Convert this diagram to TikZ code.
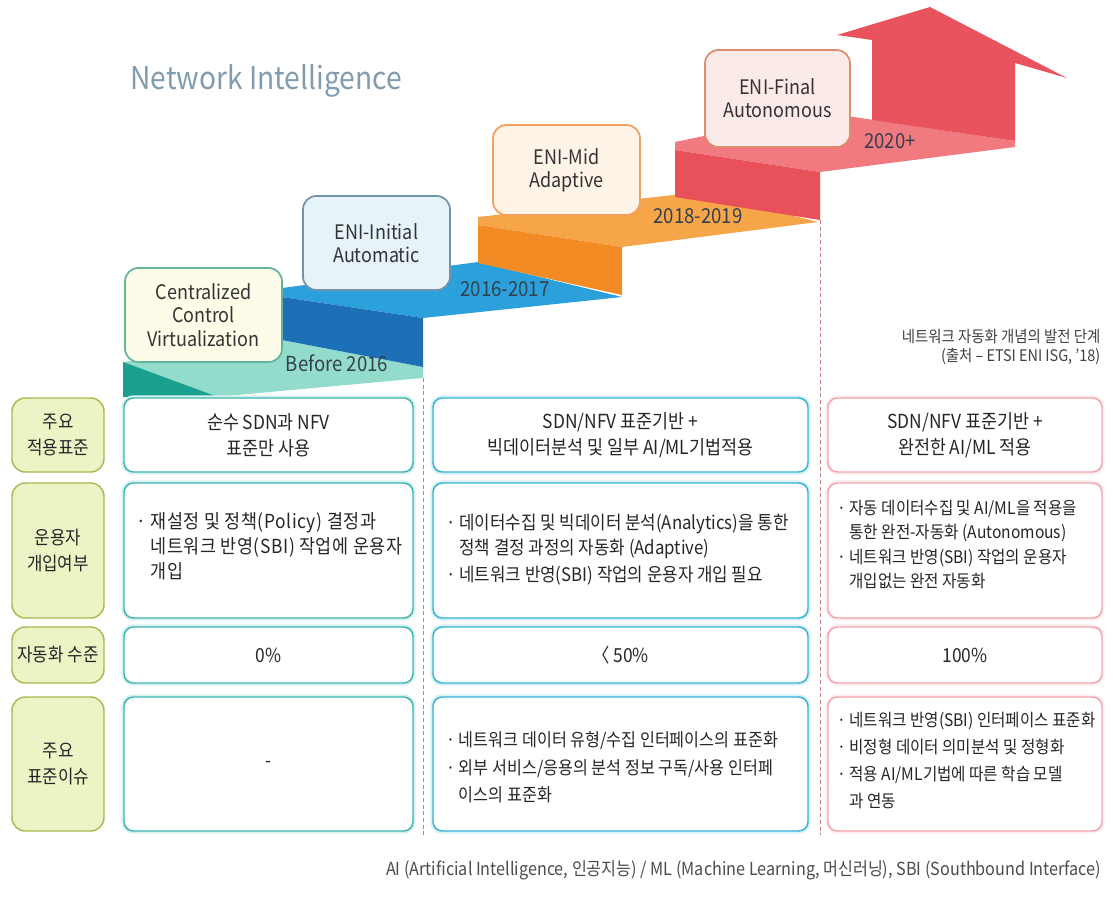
\documentclass[tikz,border=0pt]{standalone}
\usepackage{fontspec}
\setmainfont{Noto Sans CJK KR}[FakeStretch=0.9]

\definecolor{titleblue}{HTML}{809CAE}
\definecolor{tealdark}{HTML}{1BA08F}
\definecolor{mint}{HTML}{93DCCB}
\definecolor{bluedark}{HTML}{1D6FB6}
\definecolor{bluelight}{HTML}{2BA0DA}
\definecolor{orangedark}{HTML}{F28B24}
\definecolor{orangelight}{HTML}{F6A548}
\definecolor{reddark}{HTML}{E8505A}
\definecolor{redlight}{HTML}{F07A7F}
\definecolor{arrowred}{HTML}{E9535D}
\definecolor{yeartext}{HTML}{34404E}
\definecolor{boxteal}{HTML}{62B49A}
\definecolor{boxslate}{HTML}{7393A8}
\definecolor{boxorange}{HTML}{F0A060}
\definecolor{boxcoral}{HTML}{E08A6E}
\definecolor{fillcream}{HTML}{FCFCE8}
\definecolor{fillsky}{HTML}{E6F4F9}
\definecolor{fillpeach}{HTML}{FDF3E6}
\definecolor{fillpink}{HTML}{FBEBE8}
\definecolor{labelfill}{HTML}{EEF3C6}
\definecolor{labeldraw}{HTML}{A9B850}
\definecolor{colone}{HTML}{3DB5B0}
\definecolor{coltwo}{HTML}{34B4D4}
\definecolor{colthree}{HTML}{F0A3AC}
\definecolor{guidered}{HTML}{C08088}

\newcommand{\pxu}{0.75pt}

\begin{document}
\begin{tikzpicture}[x=\pxu, y=-\pxu,
    stepbox/.style={draw, line width=1.3pt, rounded corners=10pt, align=center, inner sep=0pt,
      text=black!80, font=\fontsize{15}{17.5}\selectfont},
    yeartxt/.style={text=yeartext, inner sep=0pt, font=\fontsize{15.5}{17}\selectfont},
    rowlabel/.style={draw=labeldraw, fill=labelfill, line width=1.1pt, rounded corners=10pt,
      minimum width=92*\pxu, align=center, inner sep=0pt, text=black!85, font=\fontsize{14}{19.5}\selectfont},
    cell/.style={fill=white, line width=1.1pt, rounded corners=7pt, inner sep=0pt, align=center,
      text=black!85, font=\fontsize{14.5}{19.5}\selectfont},
    colA/.style={cell, draw=colone, preaction={draw=colone!20, line width=4pt}, minimum width=289*\pxu},
    colB/.style={cell, draw=coltwo, preaction={draw=coltwo!20, line width=4pt}, minimum width=375*\pxu},
    colC/.style={cell, draw=colthree, preaction={draw=colthree!20, line width=4pt}, minimum width=274*\pxu},
    bullets/.style={anchor=west, align=left, inner sep=0pt, text=black!85},
    guide/.style={draw=guidered, line width=0.6pt, densely dashed}]
  \useasboundingbox (0,0) rectangle (1113,899);

  \node[text=titleblue, font=\fontsize{23.5}{27}\selectfont] (title) at (266,81) {Network Intelligence};

  \fill[mint] (123,362) -- (282,340) -- (423,367) -- (423,378) -- (215,397) -- (123,397) -- cycle;
  \fill[tealdark] (123,362) -- (123,397) -- (218,397) -- cycle;
  \fill[bluelight] (282,288) -- (478,262) -- (622,297) -- (423,318) -- (282,297) -- cycle;
  \fill[bluedark] (282,297) -- (423,318) -- (423,367) -- (282,340) -- cycle;
  \fill[orangelight] (478,217) -- (700,192) -- (818,222) -- (622,247) -- (478,225) -- cycle;
  \fill[orangedark] (478,225) -- (622,247) -- (622,295) -- (478,263) -- cycle;
  \fill[redlight] (675,142) -- (820,112) -- (1015,141) -- (1015,147) -- (820,172) -- (675,150) -- cycle;
  \fill[reddark] (675,150) -- (820,172) -- (820,220) -- (675,197) -- cycle;
  \fill[arrowred] (872,120) -- (872,40) -- (837,35) -- (930,7) -- (1067,78) -- (1015,63) -- (1015,141) -- cycle;

  \coordinate (g1top) at (423,378);
  \coordinate (g1bot) at (423,835);
  \coordinate (g2top) at (820,220);
  \coordinate (g2bot) at (820,835);
  \draw[guide] (g1top) -- (g1bot);
  \draw[guide] (g2top) -- (g2bot);

  \node[stepbox, fill=fillcream, draw=boxteal, minimum width=157*\pxu, minimum height=94*\pxu]
    (central) at (203.5,315) {Centralized\\Control\\Virtualization};
  \node[stepbox, fill=fillsky, draw=boxslate, minimum width=147*\pxu, minimum height=94*\pxu]
    (initial) at (376.5,243) {ENI-Initial\\Automatic};
  \node[stepbox, fill=fillpeach, draw=boxorange, minimum width=147*\pxu, minimum height=90*\pxu]
    (mid) at (566.5,170) {ENI-Mid\\Adaptive};
  \node[stepbox, fill=fillpink, draw=boxcoral, minimum width=145*\pxu, minimum height=97*\pxu]
    (final) at (777.5,98.5) {ENI-Final\\Autonomous};

  \node[yeartxt] (before) at (337,363) {Before 2016};
  \node[yeartxt] (early) at (505,289) {2016-2017};
  \node[yeartxt] (middle) at (698,216) {2018-2019};
  \node[yeartxt] (late) at (890,141) {2020+};

  \node[anchor=east, align=right, text=black!75, font=\fontsize{12}{14}\selectfont] (source) at (1105,347)
    {네트워크 자동화 개념의 발전 단계\\(출처 – ETSI ENI ISG, ’18)};

  \node[rowlabel, minimum height=74*\pxu] (lab1) at (58,435) {주요\\적용표준};
  \node[rowlabel, minimum height=135*\pxu] (lab2) at (58,550.5) {운용자\\개입여부};
  \node[rowlabel, minimum height=56*\pxu] (lab3) at (58,655) {자동화 수준};
  \node[rowlabel, minimum height=134*\pxu] (lab4) at (58,764) {주요\\표준이슈};

  \node[colA, minimum height=74*\pxu] (r1c1) at (268.5,435) {순수 SDN과 NFV\\표준만 사용};
  \node[colB, minimum height=74*\pxu] (r1c2) at (620.5,435) {SDN/NFV 표준기반 +\\빅데이터분석 및 일부 AI/ML기법적용};
  \node[colC, minimum height=74*\pxu] (r1c3) at (965,435) {SDN/NFV 표준기반 +\\완전한 AI/ML 적용};

  \node[colA, minimum height=135*\pxu] (r2c1) at (268.5,550.5) {};
  \node[colB, minimum height=135*\pxu] (r2c2) at (620.5,550.5) {};
  \node[colC, minimum height=135*\pxu] (r2c3) at (965,550.5) {};
  \node[bullets, font=\fontsize{14.5}{18.75}\selectfont\addfontfeatures{LetterSpace=3}] (t2c1) at (136,546)
    {· 재설정 및 정책(Policy) 결정과\\\hphantom{· }네트워크 반영(SBI) 작업에 운용자\\\hphantom{· }개입};
  \node[bullets, font=\fontsize{14}{19}\selectfont] (t2c2) at (446,549.5)
    {· 데이터수집 및 빅데이터 분석(Analytics)을 통한\\\hphantom{· }정책 결정 과정의 자동화 (Adaptive)\\[1.5pt]· 네트워크 반영(SBI) 작업의 운용자 개입 필요};
  \node[bullets, font=\fontsize{13}{18.2}\selectfont] (t2c3) at (837,544.5)
    {· 자동 데이터수집 및 AI/ML을 적용을\\\hphantom{· }통한 완전-자동화 (Autonomous)\\· 네트워크 반영(SBI) 작업의 운용자\\\hphantom{· }개입없는 완전 자동화};

  \node[colA, minimum height=56*\pxu] (r3c1) at (268.5,655) {0\%};
  \node[colB, minimum height=56*\pxu] (r3c2) at (620.5,655) {〈 50\%};
  \node[colC, minimum height=56*\pxu] (r3c3) at (965,655) {100\%};

  \node[colA, minimum height=134*\pxu] (r4c1) at (268.5,764) {-};
  \node[colB, minimum height=134*\pxu] (r4c2) at (620.5,764) {};
  \node[colC, minimum height=134*\pxu] (r4c3) at (965,764) {};
  \node[bullets, font=\fontsize{13.5}{20.6}\selectfont] (t4c2) at (446,767.5)
    {· 네트워크 데이터 유형/수집 인터페이스의 표준화\\· 외부 서비스/응용의 분석 정보 구독/사용 인터페\\\hphantom{· }이스의 표준화};
  \node[bullets, font=\fontsize{13}{20.25}\selectfont] (t4c3) at (837,760.5)
    {· 네트워크 반영(SBI) 인터페이스 표준화\\· 비정형 데이터 의미분석 및 정형화\\· 적용 AI/ML기법에 따른 학습 모델\\\hphantom{· }과 연동};

  \node[anchor=east, text=black!70, font=\fontsize{13.5}{15}\selectfont] (notes) at (1106,870)
    {AI (Artificial Intelligence, 인공지능) / ML (Machine Learning, 머신러닝), SBI (Southbound Interface)};
\end{tikzpicture}
\end{document}
